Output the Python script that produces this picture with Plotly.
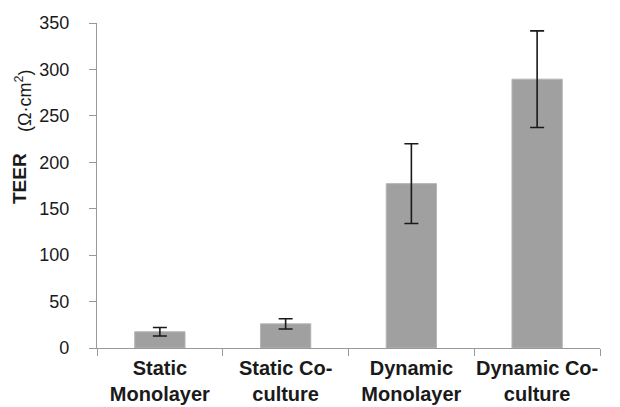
import plotly.graph_objects as go

categories = ["<b>Static<br>Monolayer</b>", "<b>Static Co-<br>culture</b>",
              "<b>Dynamic<br>Monolayer</b>", "<b>Dynamic Co-<br>culture</b>"]
teer = [17.5, 26, 177, 289.5]
teer_err = [4.5, 5.5, 43, 52]
y_ticks = [0, 50, 100, 150, 200, 250, 300, 350]

fig = go.Figure(go.Bar(
    x=categories, y=teer,
    marker=dict(color="#a0a0a0", line=dict(color="#b4b4b4", width=1)),
    width=0.4,
    error_y=dict(type="data", array=teer_err, visible=True,
                 color="#1a1a1a", thickness=1.6, width=7),
))

# page body has an 8px margin, so the figure is 8px smaller and shifted
fig.update_layout(
    width=612, height=399,
    margin=dict(l=89, r=20, t=15, b=59, autoexpand=False),
    plot_bgcolor="white", paper_bgcolor="white",
    font=dict(family="Liberation Sans, Arial", color="#1a1a1a"),
    showlegend=False,
    xaxis=dict(
        range=[-0.5, 3.5], showgrid=False, showline=True, linecolor="#999999",
        linewidth=1.3, ticks="outside", tickson="boundaries", ticklen=7,
        tickcolor="#999999", tickfont=dict(size=20, color="#1a1a1a"),
        tickangle=0, ticklabelstandoff=2, automargin=False,
    ),
    yaxis=dict(
        range=[0, 350], tickvals=y_ticks, showgrid=False, zeroline=False,
        showline=True, linecolor="#999999", linewidth=1.3, ticks="outside",
        ticklen=7, tickcolor="#999999", tickfont=dict(size=18, color="#1a1a1a"),
        ticklabelstandoff=16, automargin=False,
    ),
    annotations=[
        dict(text="<b>TEER</b>", textangle=-90, xref="paper", yref="paper",
             x=-0.155, y=0.52, xanchor="center", yanchor="middle",
             showarrow=False, font=dict(size=19, color="#1a1a1a")),
        dict(text="(Ω·cm<sup>2</sup>)", textangle=-90, xref="paper", yref="paper",
             x=-0.147, y=0.76, xanchor="center", yanchor="middle",
             showarrow=False, font=dict(size=18, color="#1a1a1a")),
    ],
)

fig.write_html("out.html")
